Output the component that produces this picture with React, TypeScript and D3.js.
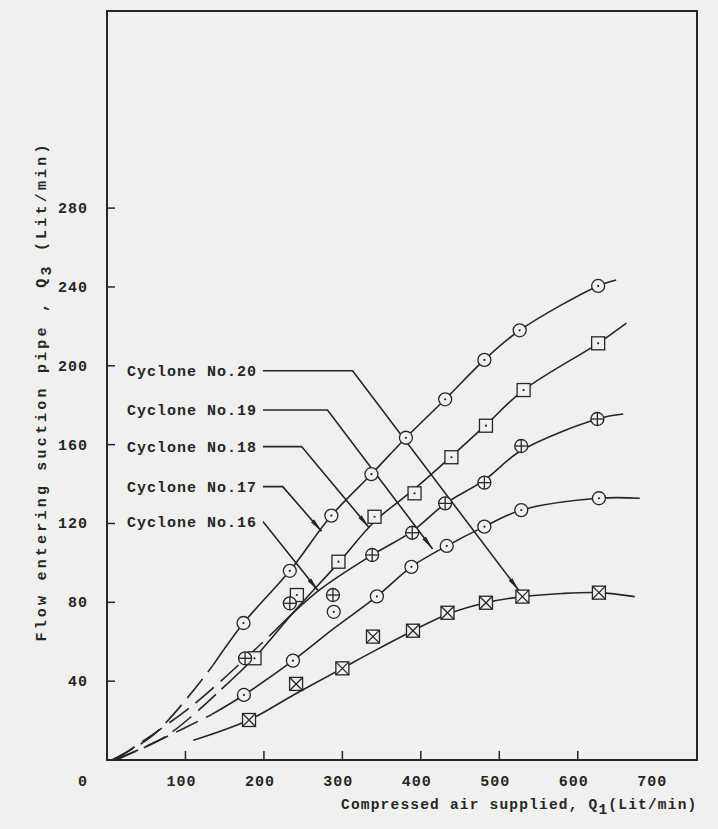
import { useEffect, useRef } from "react";
import * as d3 from "d3";

const W = 718, H = 829;

const xTickValues = [100, 200, 300, 400, 500, 600];
const xLabelValues = [0, 100, 200, 300, 400, 500, 600, 700];
const yTickValues = [40, 80, 120, 160, 200, 240, 280];

// measured points (Q1, Q3)
const topCircleQ1 = [174, 233, 286, 337, 381, 431, 481, 526, 626];
const topCircleQ3 = [69.5, 96, 124, 145, 163.5, 183, 203, 218, 240.5];
const squareQ1 = [188, 242, 295, 341, 392, 439, 483, 531, 626];
const squareQ3 = [51.6, 83.7, 100.6, 123.4, 135.3, 153.6, 169.6, 187.7, 211.4];
const plusQ1 = [176, 233, 288, 338, 389, 431, 481, 528, 625];
const plusQ3 = [51.6, 79.5, 83.7, 104, 115.3, 130.2, 140.7, 159.3, 173];
const lowCircleQ1 = [174.5, 237, 289, 344, 388, 433, 481, 528, 627];
const lowCircleQ3 = [33, 50.4, 75.2, 83, 98, 108.6, 118.4, 126.8, 132.8];
const boxXQ1 = [181, 241, 300, 339, 390, 434, 483, 529.5, 627];
const boxXQ3 = [20.3, 38.6, 46.5, 62.6, 65.6, 74.7, 79.8, 82.9, 84.9];

// fitted curves: solid part and dashed extension toward the origin
const topCircleFitQ1 = [135, 174, 233, 286, 337, 381, 431, 481, 526, 626, 649];
const topCircleFitQ3 = [48, 69.5, 96, 124, 145, 163.5, 183, 203, 218, 240.5, 243.5];
const topCircleDashQ1 = [6, 60, 135];
const topCircleDashQ3 = [0, 13, 48];
const squareFitQ1 = [146, 188, 240, 295, 341, 392, 439, 483, 531, 626, 662];
const squareFitQ3 = [36, 52, 76, 100, 121, 137.5, 154, 170, 187.7, 211.4, 221.6];
const squareDashQ1 = [8, 75, 146];
const squareDashQ3 = [0, 12, 36];
const plusFitQ1 = [215, 270, 338, 389, 431, 481, 528, 625, 658];
const plusFitQ3 = [66, 86, 104, 116, 130, 142, 157, 173, 175.5];
const plusDashQ1 = [10, 110, 215];
const plusDashQ3 = [0, 28, 66];
const lowCircleFitQ1 = [133, 174.5, 237, 290, 344, 388, 433, 481, 528, 627, 679];
const lowCircleFitQ3 = [23, 33, 50.4, 67, 83, 98, 108.6, 118.4, 126.8, 132.8, 132.8];
const lowCircleDashQ1 = [12, 76, 133];
const lowCircleDashQ3 = [0, 11.8, 23];
const boxXFitQ1 = [110, 181, 240, 300, 339, 390, 434, 483, 529.5, 580, 627, 672.6];
const boxXFitQ3 = [10, 20.3, 33.5, 46.5, 55, 65.6, 74, 79.8, 82.9, 84.5, 84.9, 82.9];

// leader labels
const labelNames = ["Cyclone No.20", "Cyclone No.19", "Cyclone No.18", "Cyclone No.17", "Cyclone No.16"];
const labelQ3 = [197.5, 177.6, 159, 138.7, 120.9];
const labelElbowQ1 = [313, 281, 248, 224, 199];
const labelTipQ1 = [525, 415, 334, 273.5, 269];
const labelTipQ3 = [86, 107, 118, 116, 86];

const INK = "#262626";
const PAPER = "#f0f0ee";
const FONT = "'Liberation Mono', 'DejaVu Sans Mono', monospace";

export default function App() {
  const ref = useRef<SVGSVGElement>(null);
  useEffect(() => {
    if (!ref.current) return;
    const svg = d3.select(ref.current);
    svg.selectAll("*").remove();
    svg.attr("viewBox", `0 0 ${W} ${H}`);

    const x = d3.scaleLinear([0, 752], [107, 697]);
    const y = d3.scaleLinear([0, 380], [760, 11]);

    svg.append("rect").attr("width", W).attr("height", H).attr("fill", PAPER);

    const defs = svg.append("defs");
    defs.append("marker").attr("id", "arrow").attr("markerUnits", "userSpaceOnUse")
      .attr("markerWidth", 16).attr("markerHeight", 8).attr("refX", 14).attr("refY", 3)
      .attr("orient", "auto")
      .append("path").attr("d", "M0,0.8 L14,3 L0,5.2 Z").attr("fill", INK);

    // frame
    svg.append("rect").attr("x", x(0)).attr("y", y(380)).attr("width", x(752) - x(0)).attr("height", y(0) - y(380))
      .attr("fill", "none").attr("stroke", INK).attr("stroke-width", 2);

    // ticks
    xTickValues.forEach((v) => {
      svg.append("line").attr("x1", x(v)).attr("x2", x(v)).attr("y1", y(0)).attr("y2", y(0) - 9)
        .attr("stroke", INK).attr("stroke-width", 1.5);
    });
    yTickValues.forEach((v) => {
      svg.append("line").attr("x1", x(0)).attr("x2", x(0) + 8).attr("y1", y(v)).attr("y2", y(v))
        .attr("stroke", INK).attr("stroke-width", 1.5);
      svg.append("text").attr("x", 88).attr("y", y(v) + 5).attr("text-anchor", "end")
        .attr("font-family", FONT).attr("font-weight", "bold").attr("font-size", 15)
        .attr("letter-spacing", 1).attr("fill", INK).text(v);
    });
    xLabelValues.forEach((v) => {
      svg.append("text").attr("x", v === 0 ? x(0) - 24 : x(v) - 4).attr("y", 786).attr("text-anchor", "middle")
        .attr("font-family", FONT).attr("font-weight", "bold").attr("font-size", 15)
        .attr("letter-spacing", 1).attr("fill", INK).text(v);
    });

    // axis titles
    const xt = svg.append("text").attr("x", 341).attr("y", 809)
      .attr("font-family", FONT).attr("font-weight", "bold").attr("font-size", 14.5)
      .attr("letter-spacing", 1.2).attr("fill", INK);
    xt.append("tspan").text("Compressed air supplied, Q");
    xt.append("tspan").attr("dy", 5).text("1");
    xt.append("tspan").attr("dy", -5).text("(Lit/min)");

    const yt = svg.append("text").attr("transform", `translate(46,${y(187)}) rotate(-90)`)
      .attr("text-anchor", "middle")
      .attr("font-family", FONT).attr("font-weight", "bold").attr("font-size", 15)
      .attr("letter-spacing", 3.2).attr("fill", INK);
    yt.append("tspan").text("Flow entering suction pipe , Q");
    yt.append("tspan").attr("dy", 5).text("3");
    yt.append("tspan").attr("dy", -5).text(" (Lit/min)");

    const curve = d3.line<[number, number]>().x((d) => x(d[0])).y((d) => y(d[1])).curve(d3.curveCatmullRom.alpha(0.5));
    const zip = (a: number[], b: number[]) => a.map((v, i) => [v, b[i]] as [number, number]);

    const solids = [
      zip(topCircleFitQ1, topCircleFitQ3), zip(squareFitQ1, squareFitQ3), zip(plusFitQ1, plusFitQ3),
      zip(lowCircleFitQ1, lowCircleFitQ3), zip(boxXFitQ1, boxXFitQ3),
    ];
    const dashes = [
      zip(topCircleDashQ1, topCircleDashQ3), zip(squareDashQ1, squareDashQ3),
      zip(plusDashQ1, plusDashQ3), zip(lowCircleDashQ1, lowCircleDashQ3),
    ];
    solids.forEach((pts) => {
      svg.append("path").attr("d", curve(pts)!).attr("fill", "none").attr("stroke", INK).attr("stroke-width", 1.6);
    });
    dashes.forEach((pts) => {
      svg.append("path").attr("d", curve(pts)!).attr("fill", "none").attr("stroke", INK).attr("stroke-width", 1.6)
        .attr("stroke-dasharray", "24 9");
    });

    // leader lines
    labelNames.forEach((name, i) => {
      const ly = y(labelQ3[i]);
      svg.append("text").attr("x", 127).attr("y", ly + 5)
        .attr("font-family", FONT).attr("font-weight", "bold").attr("font-size", 15)
        .attr("letter-spacing", 1).attr("fill", INK).text(name);
      const p = d3.path();
      p.moveTo(263, ly);
      p.lineTo(x(labelElbowQ1[i]), ly);
      p.lineTo(x(labelTipQ1[i]), y(labelTipQ3[i]));
      svg.append("path").attr("d", p.toString()).attr("fill", "none").attr("stroke", INK)
        .attr("stroke-width", 1.6).attr("marker-end", "url(#arrow)");
    });

    // markers
    const r = 6.5;
    const drawPts = (xs: number[], ys: number[], kind: string) => {
      xs.forEach((v, i) => {
        const cx = x(v), cy = y(ys[i]);
        const g = svg.append("g").attr("transform", `translate(${cx},${cy})`)
          .attr("stroke", INK).attr("stroke-width", 1.3).attr("fill", PAPER);
        if (kind === "circle" || kind === "plus") g.append("circle").attr("r", r);
        else g.append("rect").attr("x", -r).attr("y", -r).attr("width", 2 * r).attr("height", 2 * r);
        if (kind === "plus") {
          g.append("line").attr("x1", -r).attr("x2", r);
          g.append("line").attr("y1", -r).attr("y2", r);
        } else if (kind === "boxx") {
          g.append("line").attr("x1", -r).attr("y1", -r).attr("x2", r).attr("y2", r);
          g.append("line").attr("x1", -r).attr("y1", r).attr("x2", r).attr("y2", -r);
        } else {
          g.append("circle").attr("r", 1.1).attr("fill", INK).attr("stroke", "none");
        }
      });
    };
    drawPts(topCircleQ1, topCircleQ3, "circle");
    drawPts(squareQ1, squareQ3, "square");
    drawPts(plusQ1, plusQ3, "plus");
    drawPts(lowCircleQ1, lowCircleQ3, "circle");
    drawPts(boxXQ1, boxXQ3, "boxx");
  }, []);
  return (
    <svg ref={ref} width={W} height={H}
      style={{ position: "absolute", left: 0, top: 0, display: "block" }} />
  );
}
